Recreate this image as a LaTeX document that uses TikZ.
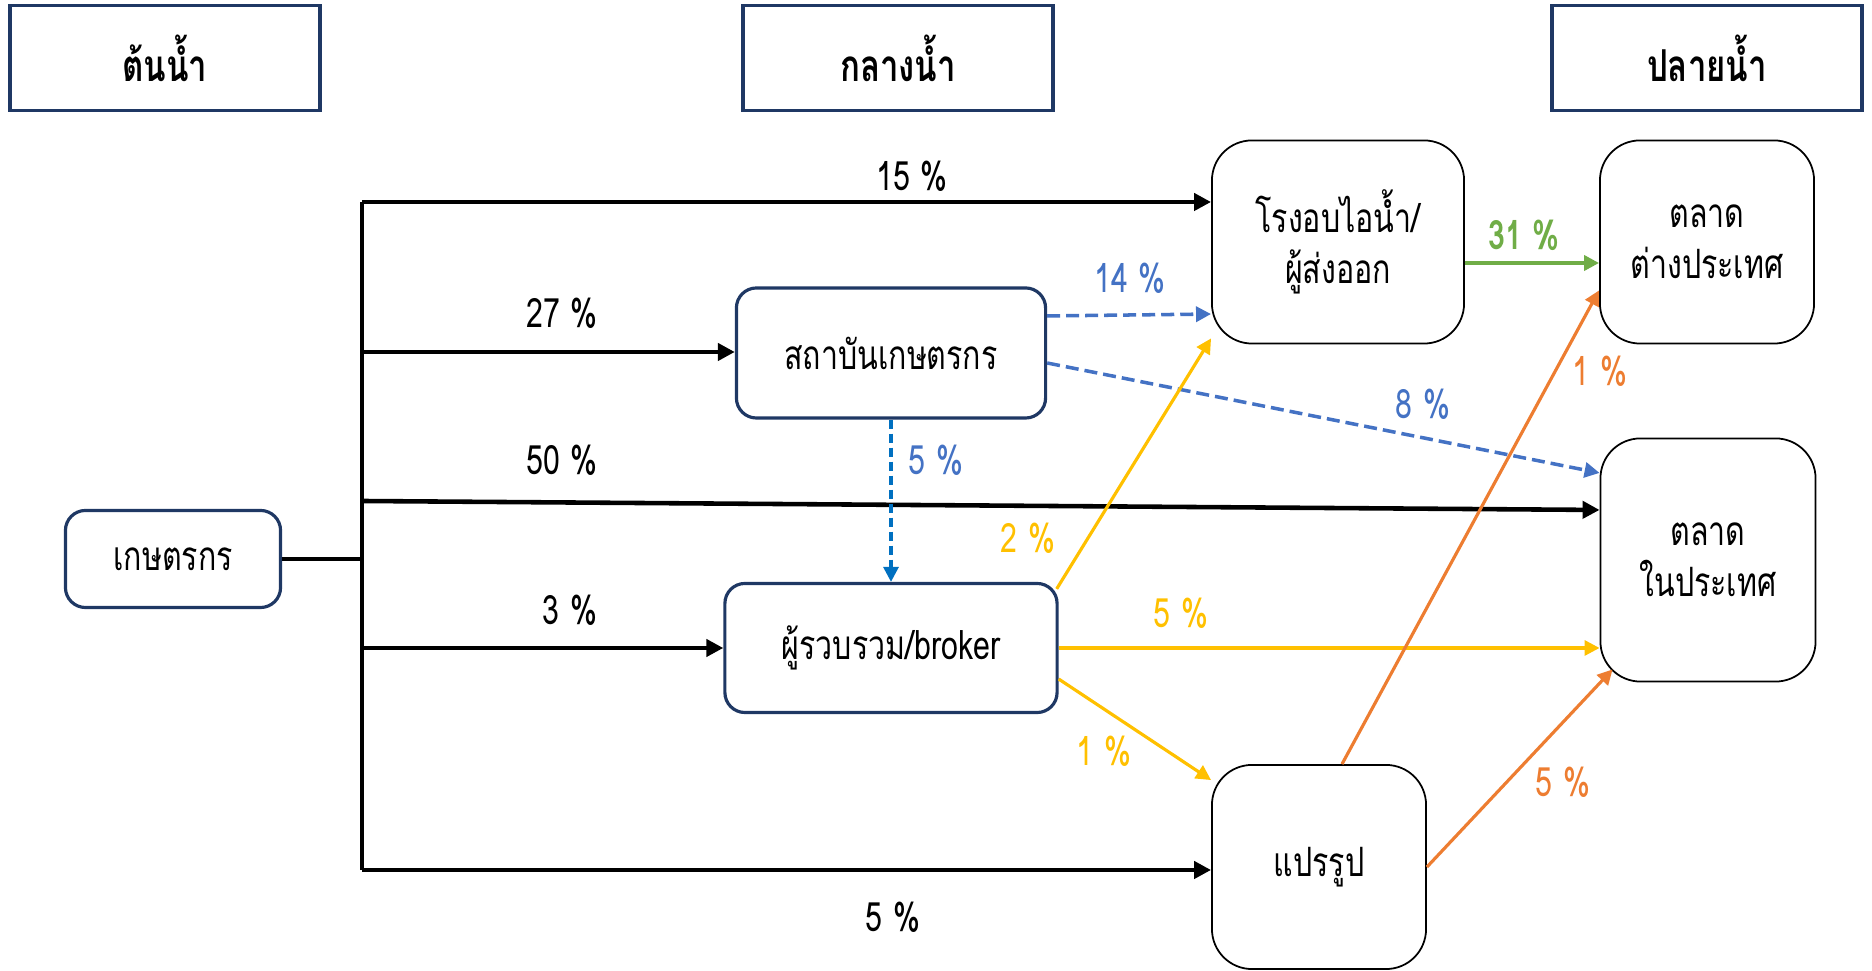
\documentclass[tikz,border=0pt]{standalone}
\usepackage{fontspec}
\setmainfont{Loma}[Script=Thai, FakeStretch=0.75]
\usetikzlibrary{arrows.meta}

\definecolor{navy}{HTML}{1F3864}
\definecolor{ylw}{HTML}{FFC000}
\definecolor{org}{HTML}{ED7D31}
\definecolor{grn}{HTML}{70AD47}
\definecolor{blu}{HTML}{4472C4}
\definecolor{bluii}{HTML}{0070C0}

\tikzset{
  headbox/.style={draw=navy, line width=1pt, minimum width=3.1cm, minimum height=1.05cm, font=\fontsize{12.5}{14}\selectfont\bfseries},
  midbox/.style={draw=navy, line width=0.9pt, rounded corners=0.2cm, align=center, font=\fontsize{11.5}{14}\selectfont},
  endbox/.style={draw=black, line width=0.5pt, rounded corners=0.4cm, align=center, font=\fontsize{11.5}{14.5}\selectfont},
  pct/.style={font=\fontsize{11.5}{13}\selectfont},
  trunk/.style={line width=1.3pt},
  flow/.style={line width=1.3pt, -{Triangle[length=1.7mm,width=1.7mm]}},
  cflow/.style={line width=0.9pt, -{Triangle[length=1.5mm,width=1.5mm]}},
  dflow/.style={cflow, line width=1pt, dash pattern=on 1.3mm off 0.6mm}
}

\begin{document}
\begin{tikzpicture}[x=0.01cm, y=-0.01cm]
  \useasboundingbox (0,0) rectangle (1872,971);
  % stages
  \node[headbox] (up) at (165,58) {ต้นน้ำ};
  \node[headbox] (mid) at (898,58) {กลางน้ำ};
  \node[headbox] (down) at (1707,58) {ปลายน้ำ};
  % actors
  \node[midbox, minimum width=2.15cm, minimum height=0.97cm] (farmer) at (173,559) {เกษตรกร};
  \node[midbox, minimum width=3.09cm, minimum height=1.3cm] (inst) at (891,353) {สถาบันเกษตรกร};
  \node[midbox, minimum width=3.32cm, minimum height=1.29cm] (broker) at (891,648) {ผู้รวบรวม/broker};
  \node[endbox, minimum width=2.52cm, minimum height=2.03cm] (roast) at (1338,242) {โรงอบไอน้ำ/\\ผู้ส่งออก};
  \node[endbox, minimum width=2.14cm, minimum height=2.03cm] (abroad) at (1707,242) {ตลาด\\ต่างประเทศ};
  \node[endbox, minimum width=2.15cm, minimum height=2.43cm] (home) at (1708,560) {ตลาด\\ในประเทศ};
  \node[endbox, minimum width=2.14cm, minimum height=2.04cm] (proc) at (1319,867) {แปรรูป};

  % farmer trunk
  \coordinate (j15) at (362,202);
  \coordinate (j27) at (362,352);
  \coordinate (j50) at (362,501);
  \coordinate (jf) at (362,559);
  \coordinate (j3) at (362,648);
  \coordinate (j5) at (362,870);
  \draw[trunk] (farmer.east) -- (jf);
  \draw[trunk] (j15) -- (j5);
  \draw[flow] (j15) -- (j15 -| roast.west);
  \draw[flow] (j27) -- (j27 -| inst.west);
  \draw[flow] (j50) -- ([yshift=0.5cm]home.west);
  \draw[flow] (j3) -- (j3 -| broker.west);
  \draw[flow] (j5) -- (j5 -| proc.west);
  \node[pct] (l15) at (912,176) {15 \%};
  \node[pct] (l27) at (562,313) {27 \%};
  \node[pct] (l50) at (562,460) {50 \%};
  \node[pct] (l3) at (570,610) {3 \%};
  \node[pct] (l5) at (893,917) {5 \%};

  % institute
  \draw[dflow, blu] ([yshift=0.37cm]inst.east) -- ([yshift=-0.72cm]roast.west);
  \draw[dflow, blu] ([yshift=-0.1cm]inst.east) -- ([yshift=0.87cm]home.west);
  \draw[cflow, bluii, dash pattern=on 0.9mm off 0.5mm] (inst.south) -- (broker.north);
  \node[pct, text=blu] (l14) at (1130,278) {14 \%};
  \node[pct, text=blu] (l8) at (1423,404) {8 \%};
  \node[pct, text=blu] (l5b) at (936,460) {5 \%};

  % broker
  \draw[cflow, ylw] ([shift={(-0.02cm,-0.07cm)}]broker.north east) -- ([yshift=0.06cm]roast.south west);
  \draw[cflow, ylw] (broker.east) -- (broker.east -| home.west);
  \draw[cflow, ylw] ([yshift=-0.31cm]broker.east) -- ([yshift=-0.16cm]proc.north west);
  \node[pct, text=ylw] (l2) at (1028,538) {2 \%};
  \node[pct, text=ylw] (l5y) at (1181,613) {5 \%};
  \node[pct, text=ylw] (l1y) at (1104,751) {1 \%};

  % exporter and processing
  \draw[cflow, grn, line width=1.1pt] ([yshift=-0.21cm]roast.east) -- ([yshift=-0.21cm]abroad.west);
  \node[pct, text=grn, font=\fontsize{11.5}{13}\selectfont\bfseries] (l31) at (1524,235) {31 \%};
  \draw[cflow, org] ([xshift=0.23cm]proc.north) -- ([yshift=0.54cm]abroad.south west);
  \draw[cflow, org] (proc.east) -- ([shift={(0.13cm,0.13cm)}]home.south west);
  \node[pct, text=org] (l1o) at (1600,371) {1 \%};
  \node[pct, text=org] (l5o) at (1563,782) {5 \%};
\end{tikzpicture}
\end{document}
